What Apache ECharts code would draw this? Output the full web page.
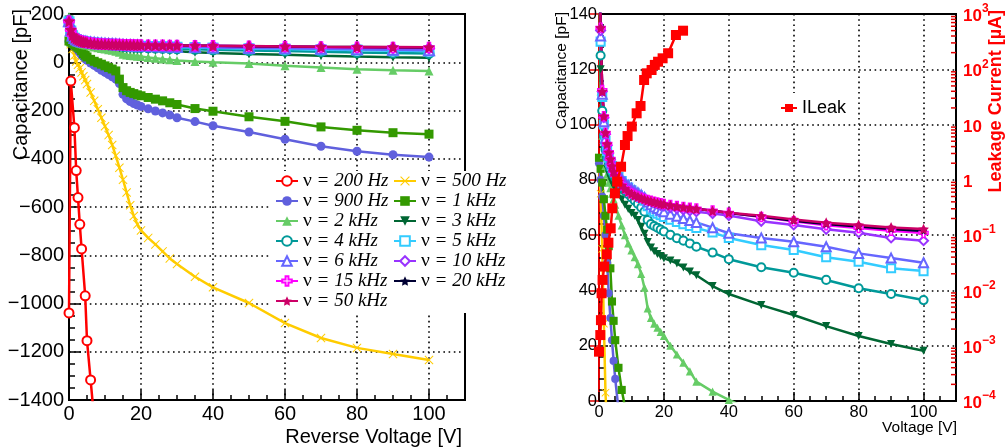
<!DOCTYPE html>
<html>
<head>
<meta charset="utf-8">
<script src="https://cdn.jsdelivr.net/npm/echarts@6/dist/echarts.min.js"></script>
<style>
  html, body { margin: 0; padding: 0; background: #fff; }
  #chart { width: 1006px; height: 448px; }
</style>
</head>
<body>
<div id="chart"></div>
<script>
// Bias voltage steps of the C-V scan [V]
const voltage = [0, 0.5, 1, 1.5, 2, 2.5, 3, 3.5, 4, 4.5, 5, 6, 7, 8, 9, 10, 11, 12, 13, 14, 15, 16, 17, 18, 19, 20, 22, 24, 26, 28, 30, 35, 40, 50, 60, 70, 80, 90, 100];

// Measured capacitance [pF] per test frequency (null = no reading)
const cap200Hz = [-1039, -78, null, -271, -449, -561, -672, -774, null, -968, -1154, -1317, -1480, null, null, null, null, null, null, null, null, null, null, null, null, null, null, null, null, null, null, null, null, null, null, null, null, null, null];
const cap500Hz = [88, 75, 55, 28, 3, -10, -25, -42, -58, -74, -90, -125, -160, -195, -230, -265, -302, -343, -388, -437, -487, -540, -593, -637, -672, -697, -728, -755, -784, -813, -836, -889, -933, -998, -1081, -1143, -1184, -1209, -1234];
const cap900Hz = [86, 80, 74, 67, 60, 50, 39, 30, 22, 14.5, 8, -3, -13, -23, -33, -42, -51, -60, -70, -88, -133, -152, -163, -171, -177, -183, -193, -202, -210, -219, -230, -246, -263, -289, -319, -348, -369, -383, -393];
const cap1kHz = [88, 84, 79, 73, 67, 62, 56, 48, 36, 29, 22, 12, 4, -2, -8, -15, -22, -28, -36, -70, -105, -118, -125, -130, -135, -139, -146, -153, -160, -168, -175, -192, -203, -226, -245, -268, -282, -292, -298];
const cap2kHz = [190, 112, 96, 89, 85, 82, 79, 77, 75, 73, 71, 67, 63.5, 60, 57, 54.5, 52, 49.5, 46, 41, 33.5, 30, 28, 26.5, 25, 23.5, 20, 16.8, 13.9, 10.7, 7, 3.4, 0.4, -5, -15, -22, -29, -33, -36];
const cap3kHz = [175, 120, 100, 92, 87, 84, 82, 80.5, 79, 77.8, 76.7, 75, 73, 71, 69.5, 68, 67, 65.5, 63, 60.5, 57.5, 55.5, 54.2, 53.2, 52.4, 51.6, 50.8, 49.8, 48.3, 46.8, 45.5, 41.6, 38.7, 34.7, 31.1, 27.1, 23.5, 20.6, 18.2];
const cap4kHz = [172, 125, 105, 96, 91, 88, 86, 84.3, 83, 81.8, 80.8, 79, 77.5, 76, 74.8, 73.6, 72.5, 71.3, 70, 68.5, 65.5, 64, 63.3, 62.7, 62, 61.3, 60.1, 58.9, 58, 57, 55.8, 53.7, 51.3, 48.4, 46.4, 43.8, 40.8, 38.7, 36.5];
const cap5kHz = [168, 130, 110, 100, 94, 90.5, 88, 86.3, 85, 83.8, 82.7, 81, 79.6, 78.3, 77.2, 76.2, 75.3, 74.4, 73.5, 72.5, 70.5, 69.3, 68.5, 67.8, 67.2, 66.6, 65.6, 64.8, 64, 63.3, 62.6, 61, 59, 56.4, 54.6, 52, 50.4, 48, 47];
const cap6kHz = [170, 132, 111, 101, 95, 91.5, 89, 87.2, 85.8, 84.6, 83.5, 81.8, 80.4, 79.1, 78, 77, 76.1, 75.3, 74.5, 73.6, 72, 71, 70.2, 69.6, 69, 68.5, 67.6, 66.8, 66, 65.3, 64.6, 62.7, 60.7, 59, 57.6, 55.8, 53.4, 51.7, 50];
const cap10kHz = [172, 134, 112, 102.5, 96.5, 92.5, 89.7, 87.5, 85.7, 84.2, 82.9, 80.8, 79.2, 77.9, 76.8, 75.9, 75.1, 74.4, 73.8, 73.2, 72.6, 72.1, 71.6, 71.2, 70.8, 70.5, 70, 69.6, 69.2, 68.8, 68.5, 67.8, 67.1, 65, 63.7, 62.1, 60.9, 59, 58];
const cap15kHz = [170, 135, 112.5, 103, 97, 93, 90, 87.6, 85.2, 83.2, 81.7, 79.6, 78.1, 76.9, 75.9, 75.1, 74.5, 74, 73.5, 73.1, 72.7, 72.4, 72.1, 71.8, 71.5, 71.3, 70.9, 70.5, 70.2, 69.9, 69.6, 68.9, 68.1, 66.6, 65, 63.6, 62.6, 61.6, 60.8];
const cap20kHz = [169, 135, 112, 103, 97, 93, 90, 87.5, 85, 83, 81.5, 79.5, 78, 76.8, 75.8, 75, 74.4, 73.9, 73.4, 73, 72.6, 72.3, 72, 71.7, 71.4, 71.2, 70.8, 70.4, 70.1, 69.8, 69.5, 68.8, 68, 66.7, 65.2, 64, 63.1, 62.2, 61.5];
const cap50kHz = [170, 135, 112, 103, 97, 93, 90, 87.5, 85, 83, 81.5, 79.5, 78, 76.8, 75.8, 75, 74.4, 73.9, 73.4, 73, 72.6, 72.3, 72, 71.7, 71.4, 71.2, 70.8, 70.4, 70.1, 69.8, 69.5, 68.8, 68.1, 67, 65.7, 64.5, 63.7, 62.8, 62.2];

// Leakage current scan
const leakVoltage = [0, 0.4, 0.6, 0.8, 1.1, 1.6, 2.4, 2.9, 3.6, 4.1, 4.9, 5.6, 6.8, 8, 8.8, 10.1, 11.6, 12.8, 13.9, 14.7, 16.2, 17.2, 18.2, 19.6, 21.3, 23.7, 25.9];
const leakCurrent = [0.00078, 0.00156, 0.0029, 0.0089, 0.0155, 0.027, 0.045, 0.073, 0.133, 0.306, 0.57, 0.93, 1.73, 4.27, 6.2, 9.2, 16, 21.7, 64, 84.5, 97, 120, 137, 158, 195, 417, 499];

// Marker shapes
const STAR = 'path://M0,-10L2.9,-4L9.5,-3.1L4.8,1.5L5.9,8.1L0,5L-5.9,8.1L-4.8,1.5L-9.5,-3.1L-2.9,-4Z';
const CROSS_X = 'path://M-10,-8.4L-8.4,-10L0,-1.6L8.4,-10L10,-8.4L1.6,0L10,8.4L8.4,10L0,1.6L-8.4,10L-10,8.4L-1.6,0Z';
const PLUS = 'path://M-3,-10L3,-10L3,-3L10,-3L10,3L3,3L3,10L-3,10L-3,3L-10,3L-10,-3L-3,-3Z';

const curves = [
  { name: 'ν = 200 Hz', values: cap200Hz, color: '#ff0000', symbol: 'emptyCircle', size: 9 },
  { name: 'ν = 500 Hz', values: cap500Hz, color: '#ffcc00', symbol: CROSS_X, size: 9 },
  { name: 'ν = 900 Hz', values: cap900Hz, color: '#6060dd', symbol: 'circle', size: 9 },
  { name: 'ν = 1 kHz', values: cap1kHz, color: '#339900', symbol: 'rect', size: 9 },
  { name: 'ν = 2 kHz', values: cap2kHz, color: '#66cc66', symbol: 'triangle', size: 9 },
  { name: 'ν = 3 kHz', values: cap3kHz, color: '#006633', symbol: 'triangle', size: 9, rotate: 180 },
  { name: 'ν = 4 kHz', values: cap4kHz, color: '#009999', symbol: 'emptyCircle', size: 9 },
  { name: 'ν = 5 kHz', values: cap5kHz, color: '#33ccff', symbol: 'emptyRect', size: 9 },
  { name: 'ν = 6 kHz', values: cap6kHz, color: '#6666ff', symbol: 'emptyTriangle', size: 10 },
  { name: 'ν = 10 kHz', values: cap10kHz, color: '#9933ff', symbol: 'emptyDiamond', size: 10 },
  { name: 'ν = 15 kHz', values: cap15kHz, color: '#ff00ff', symbol: PLUS, size: 10, hollow: true },
  { name: 'ν = 20 kHz', values: cap20kHz, color: '#000033', symbol: STAR, size: 8 },
  { name: 'ν = 50 kHz', values: cap50kHz, color: '#cc0066', symbol: STAR, size: 12 }
];

const legendLeft = ['ν = 200 Hz', 'ν = 900 Hz', 'ν = 2 kHz', 'ν = 4 kHz', 'ν = 6 kHz', 'ν = 15 kHz', 'ν = 50 kHz'];
const legendRight = ['ν = 500 Hz', 'ν = 1 kHz', 'ν = 3 kHz', 'ν = 5 kHz', 'ν = 10 kHz', 'ν = 20 kHz'];

// Minor tick positions of the logarithmic current axis
const logMinorTicks = [];
for (let e = -4; e < 3; e++) for (let m = 2; m <= 9; m++) logMinorTicks.push(m * Math.pow(10, e));

function pairs(xs, ys) {
  const out = [];
  ys.forEach((y, i) => { if (y !== null) out.push([xs[i], y]); });
  return out;
}

const series = [];
curves.forEach(c => {
  [0, 1].forEach(g => {
    const empty = c.symbol.indexOf('empty') === 0;
    series.push({
      type: 'line',
      name: c.name,
      xAxisIndex: g,
      yAxisIndex: g,
      data: pairs(voltage, c.values),
      symbol: c.symbol,
      symbolSize: g === 0 ? c.size : c.size * 0.9,
      symbolRotate: c.rotate || 0,
      showAllSymbol: true,
      connectNulls: true,
      clip: true,
      lineStyle: { color: c.color, width: 2.5 },
      itemStyle: c.hollow
        ? { color: '#fff', borderColor: c.color, borderWidth: 1.5 }
        : { color: c.color, borderWidth: empty ? 1.5 : 0 },
      emphasis: { disabled: true },
      z: 2
    });
  });
});

series.push({
  type: 'line',
  name: 'ILeak',
  xAxisIndex: 1,
  yAxisIndex: 2,
  data: pairs(leakVoltage, leakCurrent),
  symbol: 'rect',
  symbolSize: 10,
  showAllSymbol: true,
  clip: true,
  lineStyle: { color: '#ff0000', width: 2.5 },
  itemStyle: { color: '#ff0000' },
  emphasis: { disabled: true },
  z: 3
});

series.push({
  type: 'custom',
  xAxisIndex: 1,
  yAxisIndex: 2,
  silent: true,
  clip: false,
  data: logMinorTicks.map(v => [110, v]),
  renderItem: (params, api) => {
    const p = api.coord([110, api.value(1)]);
    return {
      type: 'line',
      shape: { x1: p[0] - 5, y1: p[1], x2: p[0], y2: p[1] },
      style: { stroke: '#e00000', lineWidth: 1.5 }
    };
  },
  z: 4
});

const dotted = { color: '#000', type: [1.6, 3.6], width: 1.6 };
const minus = v => String(v).replace('-', '\u2212');

const legendText = {
  color: '#000',
  rich: {
    nu: { fontFamily: 'Liberation Serif', fontSize: 19.5, lineHeight: 20, color: '#000' },
    t: { fontFamily: 'Liberation Serif', fontStyle: 'italic', fontSize: 19, lineHeight: 20, color: '#000' }
  }
};
const legendFmt = name => '{nu|ν}{t| ' + name.slice(2) + '}';

const option = {
  animation: false,
  backgroundColor: '#fff',
  grid: [
    { left: 69, top: 14, width: 396, height: 386, show: true, borderColor: '#000', borderWidth: 2 },
    { left: 599, top: 14, width: 357, height: 387, show: true, borderColor: '#000', borderWidth: 2 }
  ],
  xAxis: [
    {
      gridIndex: 0, type: 'value', min: 0, max: 110, interval: 20,
      axisLine: { onZero: false, lineStyle: { color: '#000', width: 2 } },
      axisTick: { inside: true, length: 10, lineStyle: { color: '#000', width: 1.5 } },
      minorTick: { show: true, splitNumber: 4, length: 5, lineStyle: { color: '#000', width: 1.5 } },
      axisLabel: { showMaxLabel: false, margin: 4, color: '#000', fontSize: 20, fontFamily: 'Liberation Sans' },
      splitLine: { show: true, lineStyle: dotted }
    },
    {
      gridIndex: 1, type: 'value', min: 0, max: 110, interval: 20,
      axisLine: { onZero: false, lineStyle: { color: '#000', width: 2 } },
      axisTick: { inside: true, length: 9, lineStyle: { color: '#000', width: 1.5 } },
      minorTick: { show: true, splitNumber: 4, length: 5, lineStyle: { color: '#000', width: 1.5 } },
      axisLabel: { showMaxLabel: false, margin: 3, color: '#000', fontSize: 16.5, fontFamily: 'Liberation Sans' },
      splitLine: { show: true, lineStyle: dotted }
    }
  ],
  yAxis: [
    {
      gridIndex: 0, type: 'value', min: -1400, max: 200, interval: 200,
      axisLine: { onZero: false, lineStyle: { color: '#000', width: 2 } },
      axisTick: { inside: true, length: 12, lineStyle: { color: '#000', width: 1.5 } },
      minorTick: { show: true, splitNumber: 4, length: 6, lineStyle: { color: '#000', width: 1.5 } },
      axisLabel: { margin: 5, color: '#000', fontSize: 20, fontFamily: 'Liberation Sans', formatter: minus },
      splitLine: { show: true, lineStyle: dotted }
    },
    {
      gridIndex: 1, type: 'value', min: 0, max: 140, interval: 20,
      axisLine: { onZero: false, lineStyle: { color: '#000', width: 2 } },
      axisTick: { inside: true, length: 9, lineStyle: { color: '#000', width: 1.5 } },
      minorTick: { show: true, splitNumber: 5, length: 5, lineStyle: { color: '#000', width: 1.5 } },
      axisLabel: { margin: 2, color: '#000', fontSize: 16.5, fontFamily: 'Liberation Sans' },
      splitLine: { show: true, lineStyle: dotted }
    },
    {
      gridIndex: 1, type: 'log', logBase: 10, min: 1e-4, max: 1e3, splitNumber: 7, position: 'right',
      axisLine: { lineStyle: { color: '#e00000', width: 2 } },
      axisTick: { inside: true, length: 10, lineStyle: { color: '#e00000', width: 1.5 } },
      axisLabel: {
        margin: 7,
        formatter: v => {
          const e = Math.round(Math.log10(v));
          if (e === 0) return '{b|1}';
          if (e === 1) return '{b|10}';
          return '{b|10}{s|' + (e < 0 ? '\u2212' + (-e) : e) + '}';
        },
        rich: {
          b: { fontSize: 17, fontWeight: 'bold', color: '#ff0000', fontFamily: 'Liberation Sans', lineHeight: 22, verticalAlign: 'bottom' },
          s: { fontSize: 12, fontWeight: 'bold', color: '#ff0000', fontFamily: 'Liberation Sans', lineHeight: 22, verticalAlign: 'top' }
        }
      },
      splitLine: { show: false }
    }
  ],
  legend: [
    {
      data: legendLeft, orient: 'vertical', left: 269, top: 171,
      padding: [0, 4, 2, 6], itemGap: 0, itemWidth: 22, itemHeight: 12,
      backgroundColor: '#fff', textStyle: legendText, formatter: legendFmt, selectedMode: false
    },
    {
      data: legendRight, orient: 'vertical', left: 388, top: 171,
      padding: [0, 8, 22, 5], itemGap: 0, itemWidth: 22, itemHeight: 12,
      backgroundColor: '#fff', textStyle: legendText, formatter: legendFmt, selectedMode: false
    },
    {
      data: ['ILeak'], orient: 'vertical', left: 777, top: 93,
      padding: [6, 6, 6, 3], itemWidth: 16, itemHeight: 10,
      backgroundColor: '#fff', selectedMode: false,
      textStyle: { color: '#000', fontSize: 18, fontFamily: 'Liberation Sans' }
    }
  ],
  graphic: [
    { type: 'text', x: 21, y: 9, rotation: Math.PI / 2,
      style: { text: 'Capacitance [pF]', align: 'right', verticalAlign: 'middle', fontSize: 20, fontFamily: 'Liberation Sans', fill: '#000' } },
    { type: 'text', x: 462, y: 437,
      style: { text: 'Reverse Voltage [V]', align: 'right', verticalAlign: 'middle', fontSize: 20, fontFamily: 'Liberation Sans', fill: '#000' } },
    { type: 'text', x: 562, y: 12, rotation: Math.PI / 2,
      style: { text: 'Capacitance [pF]', align: 'right', verticalAlign: 'middle', fontSize: 15.5, fontFamily: 'Liberation Sans', fill: '#000' } },
    { type: 'text', x: 957, y: 428,
      style: { text: 'Voltage [V]', align: 'right', verticalAlign: 'middle', fontSize: 15.5, fontFamily: 'Liberation Sans', fill: '#000' } },
    { type: 'text', x: 996, y: 10, rotation: Math.PI / 2,
      style: { text: 'Leakage Current [µA]', align: 'right', verticalAlign: 'middle', fontSize: 18, fontWeight: 'bold', fontFamily: 'Liberation Sans', fill: '#ff0000' } }
  ],
  series: series
};

const chart = echarts.init(document.getElementById('chart'), null, { renderer: 'canvas' });
chart.setOption(option);
</script>
</body>
</html>
